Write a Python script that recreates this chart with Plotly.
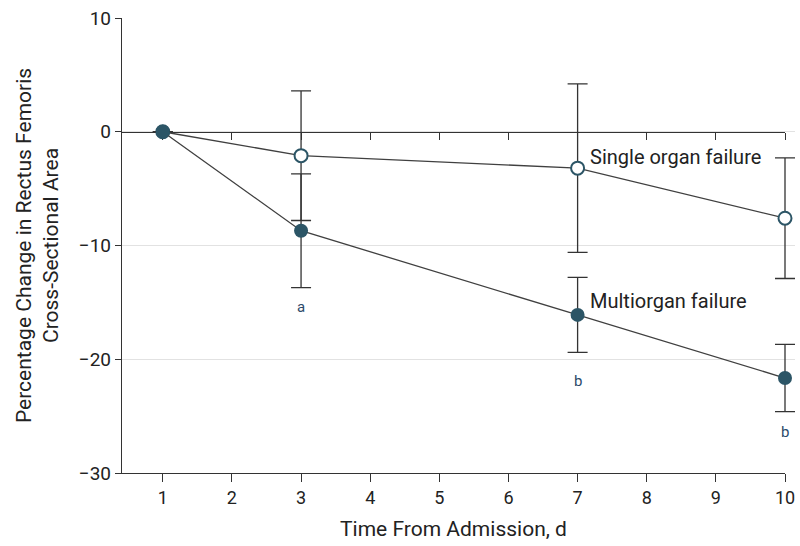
import plotly.graph_objects as go

days = [1, 3, 7, 10]
single_mean = [0, -2.1, -3.2, -7.6]
single_err = [0, 5.7, 7.4, 5.3]
multi_mean = [0, -8.7, -16.1, -21.65]
multi_err = [0, 5.0, 3.3, 2.95]

sig_x = [3, 7, 10]
sig_y = [-15.4, -21.9, -26.4]
sig_text = ["a", "b", "b"]

x_ticks = list(range(1, 11))
y_ticks = [-30, -20, -10, 0, 10]

TEAL = "#2c5566"
LINE = "#404040"
FONT = "Roboto, Arial"

# plot area: 122..795 px; the visible x axis spans 122..785 px (0.41..10)
X_MIN, X_MAX = 0.41, 10
PLOT_W = 673
AXIS_W = 663
X_MAX_DATA = X_MIN + (X_MAX - X_MIN) * PLOT_W / AXIS_W

fig = go.Figure()

fig.add_trace(go.Scatter(
    x=days, y=single_mean, mode="lines+markers", cliponaxis=False, xaxis="x3",
    line=dict(color=LINE, width=1.3),
    marker=dict(size=13, color="white", line=dict(color=TEAL, width=2)),
    error_y=dict(type="data", array=single_err, color="#333333", thickness=1.3, width=10),
    showlegend=False,
))
fig.add_trace(go.Scatter(
    x=days, y=multi_mean, mode="lines+markers", cliponaxis=False, xaxis="x3",
    line=dict(color=LINE, width=1.3),
    marker=dict(size=14, color=TEAL, line=dict(color=TEAL, width=0)),
    error_y=dict(type="data", array=multi_err, color="#333333", thickness=1.3, width=10),
    showlegend=False,
))

# invisible anchors for the visible axes
fig.add_trace(go.Scatter(x=[days[0]], y=[0], mode="markers",
                         marker=dict(size=1, opacity=0), showlegend=False, hoverinfo="skip"))
fig.add_trace(go.Scatter(x=[days[0]], y=[0], xaxis="x2", mode="markers",
                         marker=dict(size=1, opacity=0), showlegend=False, hoverinfo="skip"))

for xv, yv, t in zip(sig_x, sig_y, sig_text):
    fig.add_annotation(x=xv, y=yv, xref="x3", text=t, showarrow=False,
                       font=dict(family=FONT, size=15, color="#2c4a6a"))

fig.add_annotation(x=7, y=single_mean[2], xref="x3", text="Single organ failure", showarrow=False,
                   xanchor="left", yanchor="middle", xshift=10, yshift=11,
                   font=dict(family=FONT, size=20, color="#222222"))
fig.add_annotation(x=7, y=multi_mean[2], xref="x3", text="Multiorgan failure", showarrow=False,
                   xanchor="left", yanchor="middle", xshift=10, yshift=14,
                   font=dict(family=FONT, size=20, color="#222222"))

dom = [0, AXIS_W / PLOT_W]

fig.update_layout(
    width=800, height=546,
    margin=dict(l=122, r=5, t=18, b=73),
    plot_bgcolor="rgba(0,0,0,0)", paper_bgcolor="white",
    font=dict(family=FONT, size=18, color="#222222"),
    xaxis=dict(range=[X_MIN, X_MAX], domain=dom, tickvals=x_ticks, ticks="outside", ticklen=8,
               tickcolor="#333333", showline=True, linecolor="#333333", linewidth=1.3,
               showgrid=False, zeroline=False, automargin=False,
               title=dict(text="Time From Admission, d", font=dict(size=21), standoff=14),
               tickfont=dict(size=18)),
    xaxis2=dict(range=[X_MIN, X_MAX], domain=dom, tickvals=x_ticks, ticks="outside", ticklen=7,
                tickcolor="#333333", showline=True, linecolor="#333333", linewidth=1.3,
                showticklabels=False, showgrid=False, zeroline=False, automargin=False,
                overlaying="x", anchor="free", position=0.75, side="bottom"),
    xaxis3=dict(range=[X_MIN, X_MAX_DATA], domain=[0, 1], visible=False,
                anchor="y", automargin=False),
    yaxis=dict(range=[-30, 10], tickvals=y_ticks, ticks="outside", ticklen=6,
               tickcolor="#333333", showline=True, linecolor="#333333", linewidth=1.3,
               showgrid=True, gridcolor="#e2e2e2", gridwidth=1, zeroline=False,
               automargin=False, anchor="x",
               title=dict(text="Percentage Change in Rectus Femoris<br>Cross-Sectional Area",
                          font=dict(size=21), standoff=14),
               tickfont=dict(size=19)),
)

fig.write_html("out.html", post_script="document.body.style.margin='0';",
               config={"displayModeBar": False})
